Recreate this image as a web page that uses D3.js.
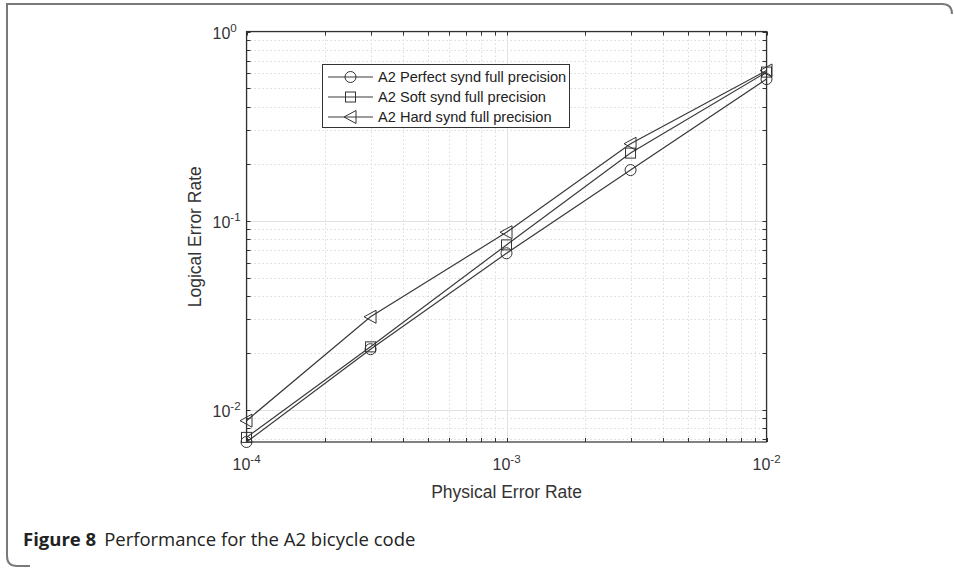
<!DOCTYPE html>
<html lang="en">
<head>
<meta charset="UTF-8">
<script src="https://d3js.org/d3.v7.min.js"></script>
<title>Figure 8</title>
<style>
  body { margin: 0; background: #fff; overflow: hidden; }
  svg { display: block; }
  .tick-label { font-family: "Liberation Sans", Arial, sans-serif; font-size: 16px; fill: #333; }
  .axis-title { font-family: "Liberation Sans", Arial, sans-serif; font-size: 17.5px; fill: #333; }
  .legend-text { font-family: "Liberation Sans", Arial, sans-serif; font-size: 14.6px; fill: #222; }
  .caption { font-family: "Open Sans", "Noto Sans", sans-serif; font-size: 18.5px; fill: #222; }
</style>
</head>
<body>
<script>
  // physical error rates (x) and logical error rates per decoder
  const physicalRates = [1e-4, 3e-4, 1e-3, 3e-3, 1e-2];
  const perfectSynd = [0.00675, 0.0209, 0.0672, 0.185, 0.56];
  const softSynd    = [0.00714, 0.0215, 0.0744, 0.2275, 0.61];
  const hardSynd    = [0.00875, 0.031, 0.0868, 0.255, 0.622];
  const seriesNames = ["A2 Perfect synd full precision", "A2 Soft synd full precision", "A2 Hard synd full precision"];
  const seriesMarkers = ["circle", "square", "triangle"];
  const xTickValues = [1e-4, 1e-3, 1e-2];
  const yTickValues = [1e-2, 1e-1, 1e0];

  const width = 954, height = 568;
  const plot = { left: 246.5, right: 766.5, top: 31.5, bottom: 442 };

  const svg = d3.select("body").append("svg")
    .attr("width", width)
    .attr("height", height);

  // figure frame (left + top border, rounded corners)
  svg.append("path")
    .attr("d", `M ${width - 2},14 Q ${width - 2},4 ${width - 12},4 L 7,4 L 7,556 Q 7,566 17,566 L 30,566`)
    .attr("fill", "none")
    .attr("stroke", "#7a7a7a")
    .attr("stroke-width", 2);

  const x = d3.scaleLog().domain([1e-4, 1e-2]).range([plot.left, plot.right]);
  const y = d3.scaleLog().domain([0.00675, 1]).range([plot.bottom, plot.top]);

  // minor tick values for grid
  const xMinor = [];
  for (let e = -4; e < -2; e++) for (let m = 2; m <= 9; m++) xMinor.push(m * Math.pow(10, e));
  const yMinor = [];
  for (let e = -3; e < 0; e++) for (let m = 1; m <= 9; m++) {
    const v = m * Math.pow(10, e);
    if (m > 1 && v >= 0.00675) yMinor.push(v);
  }

  const grid = svg.append("g");
  grid.selectAll(".xminor").data(xMinor).enter().append("line")
    .attr("x1", d => Math.round(x(d)) + 0.5).attr("x2", d => Math.round(x(d)) + 0.5)
    .attr("y1", plot.top).attr("y2", plot.bottom)
    .attr("stroke", "#dcdcdc").attr("stroke-dasharray", "1.5,2.5");
  grid.selectAll(".yminor").data(yMinor).enter().append("line")
    .attr("y1", d => Math.round(y(d)) + 0.5).attr("y2", d => Math.round(y(d)) + 0.5)
    .attr("x1", plot.left).attr("x2", plot.right)
    .attr("stroke", "#dcdcdc").attr("stroke-dasharray", "1.5,2.5");
  grid.selectAll(".xmajor").data(xTickValues).enter().append("line")
    .attr("x1", d => Math.round(x(d)) + 0.5).attr("x2", d => Math.round(x(d)) + 0.5)
    .attr("y1", plot.top).attr("y2", plot.bottom)
    .attr("stroke", "#e2e2e2");
  grid.selectAll(".ymajor").data(yTickValues).enter().append("line")
    .attr("y1", d => Math.round(y(d)) + 0.5).attr("y2", d => Math.round(y(d)) + 0.5)
    .attr("x1", plot.left).attr("x2", plot.right)
    .attr("stroke", "#e2e2e2");

  // axes box with inward ticks
  const axisColor = "#303030";
  const ticks = svg.append("g").attr("stroke", axisColor).attr("stroke-width", 1);
  xMinor.concat(xTickValues).forEach(v => {
    const px = Math.round(x(v)) + 0.5;
    ticks.append("line").attr("x1", px).attr("x2", px).attr("y1", plot.bottom).attr("y2", plot.bottom - 4);
    ticks.append("line").attr("x1", px).attr("x2", px).attr("y1", plot.top).attr("y2", plot.top + 4);
  });
  yMinor.concat(yTickValues).forEach(v => {
    const py = Math.round(y(v)) + 0.5;
    ticks.append("line").attr("y1", py).attr("y2", py).attr("x1", plot.left).attr("x2", plot.left + 4);
    ticks.append("line").attr("y1", py).attr("y2", py).attr("x1", plot.right).attr("x2", plot.right - 4);
  });
  svg.append("rect")
    .attr("x", plot.left).attr("y", plot.top)
    .attr("width", plot.right - plot.left).attr("height", plot.bottom - plot.top)
    .attr("fill", "none").attr("stroke", axisColor).attr("stroke-width", 1.2);

  // tick labels as 10^n
  function powLabel(g, v) {
    const e = Math.round(Math.log10(v));
    g.append("tspan").text("10");
    g.append("tspan").attr("dy", -7).attr("font-size", "11.5px").text(e);
  }
  xTickValues.forEach(v => {
    const t = svg.append("text").attr("class", "tick-label")
      .attr("x", x(v) - 14).attr("y", plot.bottom + 28);
    powLabel(t, v);
  });
  yTickValues.forEach(v => {
    const t = svg.append("text").attr("class", "tick-label")
      .attr("x", plot.left - 34).attr("y", y(v) + 7);
    powLabel(t, v);
  });

  // axis titles
  svg.append("text").attr("class", "axis-title")
    .attr("x", (plot.left + plot.right) / 2).attr("y", plot.bottom + 56)
    .attr("text-anchor", "middle").text("Physical Error Rate");
  svg.append("text").attr("class", "axis-title")
    .attr("transform", `translate(${plot.left - 46},${(plot.top + plot.bottom) / 2}) rotate(-90)`)
    .attr("text-anchor", "middle").text("Logical Error Rate");

  // markers
  const markerColor = "#333";
  function drawMarker(g, type, cx, cy) {
    if (type === "circle") {
      g.append("circle").attr("cx", cx).attr("cy", cy).attr("r", 5.5)
        .attr("fill", "none").attr("stroke", markerColor).attr("stroke-width", 1);
    } else if (type === "square") {
      g.append("rect").attr("x", cx - 5).attr("y", cy - 5).attr("width", 10).attr("height", 10)
        .attr("fill", "none").attr("stroke", markerColor).attr("stroke-width", 1);
    } else {
      g.append("path").attr("d", `M ${cx - 6.5},${cy} L ${cx + 5.5},${cy - 6.5} L ${cx + 5.5},${cy + 6.5} Z`)
        .attr("fill", "none").attr("stroke", markerColor).attr("stroke-width", 1);
    }
  }

  const allSeries = [perfectSynd, softSynd, hardSynd];
  const line = d3.line().x(d => x(d[0])).y(d => y(d[1]));
  allSeries.forEach((vals, i) => {
    const pts = physicalRates.map((p, j) => [p, vals[j]]);
    svg.append("path").datum(pts)
      .attr("d", line)
      .attr("fill", "none").attr("stroke", "#3a3a3a").attr("stroke-width", 1.2);
    const g = svg.append("g");
    pts.forEach(p => drawMarker(g, seriesMarkers[i], x(p[0]), y(p[1])));
  });

  // legend
  const lg = svg.append("g");
  lg.append("rect").attr("x", 322.5).attr("y", 64.5).attr("width", 247).attr("height", 63)
    .attr("fill", "#fff").attr("stroke", "#333").attr("stroke-width", 1);
  seriesNames.forEach((name, i) => {
    const cy = 77 + i * 20;
    lg.append("line").attr("x1", 328).attr("x2", 373).attr("y1", cy).attr("y2", cy)
      .attr("stroke", "#3a3a3a").attr("stroke-width", 1.2);
    drawMarker(lg, seriesMarkers[i], 350.5, cy);
    lg.append("text").attr("class", "legend-text").attr("x", 378).attr("y", cy + 5).text(name);
  });

  // caption
  const cap = svg.append("text").attr("class", "caption").attr("x", 23).attr("y", 546);
  cap.append("tspan").attr("font-weight", "bold").text("Figure 8");
  cap.append("tspan").attr("dx", 8).text("Performance for the A2 bicycle code");
</script>
</body>
</html>
